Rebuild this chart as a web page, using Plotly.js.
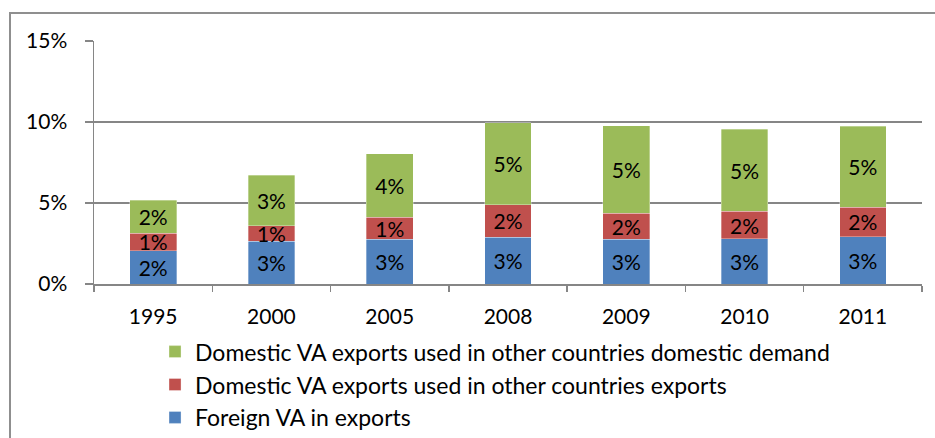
<!DOCTYPE html>
<html>
<head>
<meta charset="utf-8">
<script src="https://cdn.plot.ly/plotly-3.0.1.min.js"></script>
<style>
html,body{margin:0;padding:0;background:#fff;overflow:hidden;}
#chart{width:935px;height:438px;position:absolute;left:0;top:0;}
#frame{position:absolute;left:9px;top:12px;width:960px;height:460px;border-left:2px solid #8f8f8f;border-top:2px solid #8f8f8f;pointer-events:none;}
</style>
</head>
<body>
<div id="chart"></div>
<div id="frame"></div>
<script>
const years = ["1995","2000","2005","2008","2009","2010","2011"];
const foreignVA = [2.05, 2.63, 2.75, 2.90, 2.76, 2.78, 2.93];
const domesticForExports = [1.09, 0.97, 1.38, 2.00, 1.60, 1.71, 1.82];
const domesticForDemand = [2.04, 3.12, 3.90, 5.06, 5.42, 5.06, 4.98];
const seriesNames = [
  "Foreign VA in exports",
  "Domestic VA exports used in other countries exports",
  "Domestic VA exports used in other countries domestic demand"
];
const colors = ["#4F81BD", "#C0504D", "#9BBB59"];
const yTicks = [0, 5, 10, 15];

const FONT = "Lato, 'Open Sans', sans-serif";
const dataSets = [foreignVA, domesticForExports, domesticForDemand];
const traces = dataSets.map((vals, i) => ({
  type: "bar",
  name: seriesNames[i],
  x: years,
  y: vals,
  marker: {color: colors[i], line: {color: "rgba(255,255,255,0.4)", width: 0.8}},
  texttemplate: "%{y:.0f}%",
  textposition: "inside",
  insidetextanchor: "middle",
  constraintext: "none",
  textfont: {color: "#000", size: 21, family: FONT},
  hoverinfo: "none"
}));

const layout = {
  width: 935, height: 438,
  barmode: "stack",
  bargap: 0.605,
  margin: {l: 94, r: 13, t: 41, b: 154, autoexpand: false},
  paper_bgcolor: "#fff",
  plot_bgcolor: "#fff",
  font: {family: FONT, size: 21, color: "#000"},
  showlegend: true,
  legend: {
    traceorder: "reversed",
    x: 0.0737, xanchor: "left",
    y: -0.19, yanchor: "top",
    font: {family: FONT, size: 23, color: "#000"},
    bgcolor: "rgba(0,0,0,0)",
    itemwidth: 30,
    tracegroupgap: 0
  },
  xaxis: {
    type: "category",
    showgrid: false,
    showline: true, linecolor: "#868686", linewidth: 1.5,
    ticks: "outside", tickson: "boundaries", ticklen: 6, tickcolor: "#868686", tickwidth: 1.5,
    tickfont: {family: FONT, size: 21, color: "#000"},
    ticklabelstandoff: 13,
    zeroline: false
  },
  yaxis: {
    range: [0, 15],
    tickvals: yTicks,
    ticktext: yTicks.map(v => v + "%"),
    showgrid: true, gridcolor: "#868686", gridwidth: 1.5,
    showline: true, linecolor: "#868686", linewidth: 1.5,
    ticks: "outside", ticklen: 8, tickcolor: "#868686", tickwidth: 1.5,
    tickfont: {family: FONT, size: 21, color: "#000"},
    ticklabelstandoff: 13,
    zeroline: false
  }
};

Plotly.newPlot("chart", traces, layout, {staticPlot: true, displayModeBar: false});
</script>
</body>
</html>
